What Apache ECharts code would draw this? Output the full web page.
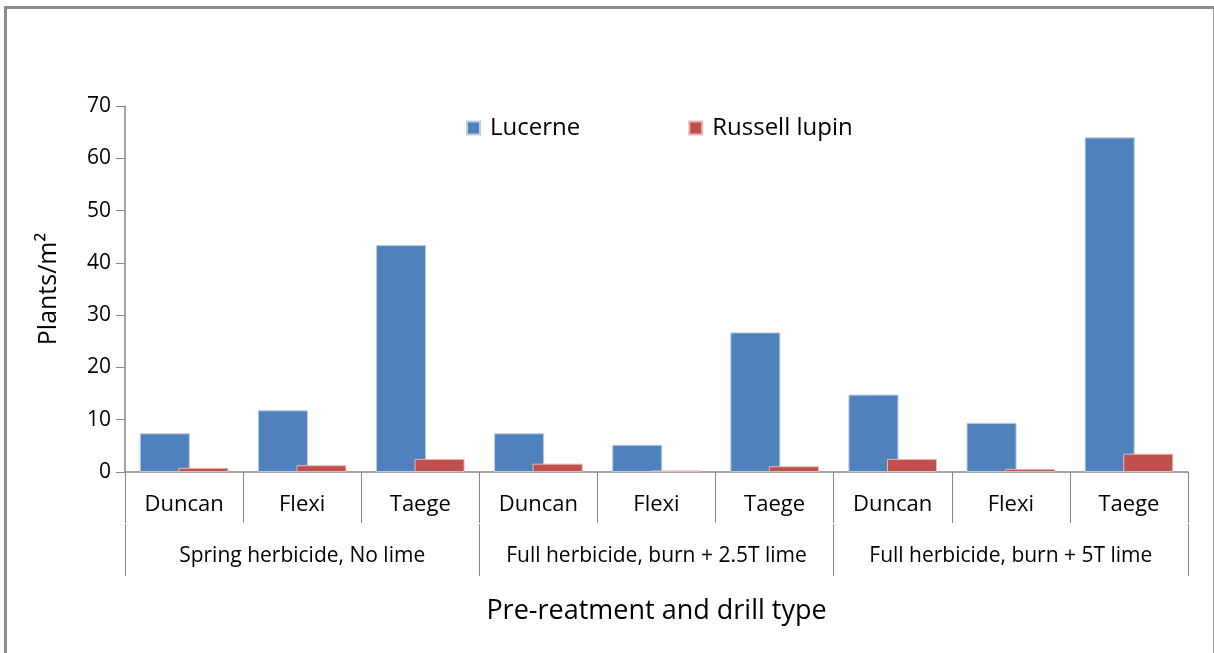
<!DOCTYPE html>
<html>
<head>
<meta charset="UTF-8">
<title>Plants/m2 by pre-treatment and drill type</title>
<style>
  html, body { margin: 0; padding: 0; background: #fff; overflow: hidden; }
  #frame { position: absolute; left: 4px; top: 6px; width: 1206px; height: 700px;
           border-top: 3px solid #8c8c8c; border-left: 3px solid #8c8c8c; border-right: 1px solid #9a9a9a; }
  #chart { position: absolute; left: 0; top: 0; width: 1214px; height: 653px; }
</style>
</head>
<body>
<div id="frame"></div>
<div id="chart"></div>
<script src="https://cdn.jsdelivr.net/npm/echarts@6/dist/echarts.min.js"></script>
<script>
var drills = ['Duncan', 'Flexi', 'Taege', 'Duncan', 'Flexi', 'Taege', 'Duncan', 'Flexi', 'Taege'];
var treatments = ['Spring herbicide, No lime', 'Full herbicide, burn + 2.5T lime', 'Full herbicide, burn + 5T lime'];
var lucerne = [7.4, 11.8, 43.4, 7.4, 5.2, 26.7, 14.8, 9.4, 64.0];
var russellLupin = [0.8, 1.3, 2.5, 1.6, 0.3, 1.1, 2.5, 0.6, 3.5];

var font = 'Open Sans';
var axisGrey = '#868686';

var chart = echarts.init(document.getElementById('chart'));
var option = {
  animation: false,
  textStyle: { fontFamily: font },
  legend: {
    top: 111,
    left: 461,
    itemWidth: 13,
    itemHeight: 13,
    itemGap: 108,
    icon: 'rect',
    textStyle: { fontFamily: font, fontSize: 24, color: '#000', padding: [0, 0, 0, 5] },
    data: ['Lucerne', 'Russell lupin']
  },
  grid: { left: 125, right: 26, top: 106, bottom: 181 },
  xAxis: [{
    type: 'category',
    data: drills,
    axisLine: { lineStyle: { color: axisGrey, width: 1.5 } },
    axisTick: { show: true, interval: 0, length: 51, lineStyle: { color: axisGrey } },
    axisLabel: { interval: 0, margin: 22, fontSize: 22, color: '#000', fontFamily: font }
  }, {
    type: 'category',
    data: treatments,
    position: 'bottom',
    offset: 52,
    axisLine: { show: false },
    axisTick: { show: true, interval: 0, length: 52, lineStyle: { color: axisGrey } },
    axisLabel: { interval: 0, margin: 22, fontSize: 21, color: '#000', fontFamily: font },
    name: 'Pre-reatment and drill type',
    nameLocation: 'middle',
    nameGap: 74,
    nameTextStyle: { fontSize: 27, color: '#000', fontFamily: font }
  }],
  yAxis: {
    type: 'value',
    min: 0,
    max: 70,
    interval: 10,
    name: 'Plants/m\u00B2',
    nameLocation: 'middle',
    nameGap: 64,
    nameTextStyle: { fontSize: 25, color: '#000', fontFamily: font },
    axisLine: { show: true, lineStyle: { color: axisGrey, width: 1.5 } },
    axisTick: { show: true, length: 9, lineStyle: { color: axisGrey } },
    axisLabel: { fontSize: 21, color: '#000', margin: 14, fontFamily: font },
    splitLine: { show: false }
  },
  series: [{
    name: 'Lucerne',
    type: 'bar',
    data: lucerne,
    barGap: '-23%',
    barCategoryGap: '25%',
    itemStyle: { color: '#4F81BD', borderColor: '#b9cde5', borderWidth: 1 }
  }, {
    name: 'Russell lupin',
    type: 'bar',
    data: russellLupin,
    itemStyle: { color: '#C0504D', borderColor: '#e6b9b8', borderWidth: 1 }
  }]
};
chart.setOption(option);
</script>
</body>
</html>
